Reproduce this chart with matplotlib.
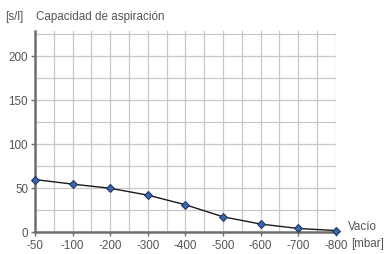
import matplotlib.pyplot as plt
import matplotlib.ticker as ticker

vacuum_labels = ['-50', '-100', '-200', '-300', '-400', '-500', '-600', '-700', '-800']
suction_capacity = [59.5, 54.3, 49.6, 41.8, 30.9, 17.2, 9.0, 4.0, 1.6]

plt.rcParams['font.family'] = ['Liberation Sans', 'DejaVu Sans']

figure, axis = plt.subplots(figsize=(3.87, 2.55), dpi=100)
figure.subplots_adjust(left=0.0904, right=0.868, bottom=0.0863, top=0.8745)

x_axis = list(range(len(vacuum_labels)))
axis.plot(x_axis, suction_capacity, color='#1a1a1a', linewidth=1.0, zorder=3,
          marker='D', markersize=4.5, markerfacecolor='#3a66b0',
          markeredgecolor='#1f2f55', markeredgewidth=0.7, clip_on=False)

axis.set_xlim(0, len(vacuum_labels) - 1)
axis.set_ylim(0, 228)
axis.set_xticks(x_axis)
axis.set_xticklabels(vacuum_labels)
axis.set_yticks([0, 50, 100, 150, 200])
axis.xaxis.set_minor_locator(ticker.MultipleLocator(0.5))
axis.yaxis.set_minor_locator(ticker.MultipleLocator(25))
axis.grid(which='both', color='#c8c8c8', linewidth=0.9)
axis.set_axisbelow(True)

for side in ('top', 'right'):
    axis.spines[side].set_visible(False)
for side in ('left', 'bottom'):
    axis.spines[side].set_color('#6e6e6e')
    axis.spines[side].set_linewidth(1.8)

axis.tick_params(which='major', colors='#6e6e6e', labelcolor='#555555',
                 labelsize=8.4, length=3, width=1, pad=2)
axis.tick_params(which='minor', length=0)

text_style = dict(fontsize=8.4, color='#555555', va='center', ha='left')
figure.text(5 / 387, 1 - 17 / 255, '[s/l]', **text_style)
figure.text(36 / 387, 1 - 17 / 255, 'Capacidad de aspiración', **text_style)
figure.text(348 / 387, 1 - 227 / 255, 'Vacío', **text_style)
figure.text(351 / 387, 1 - 244 / 255, '[mbar]', **text_style)

plt.savefig('out.png')
